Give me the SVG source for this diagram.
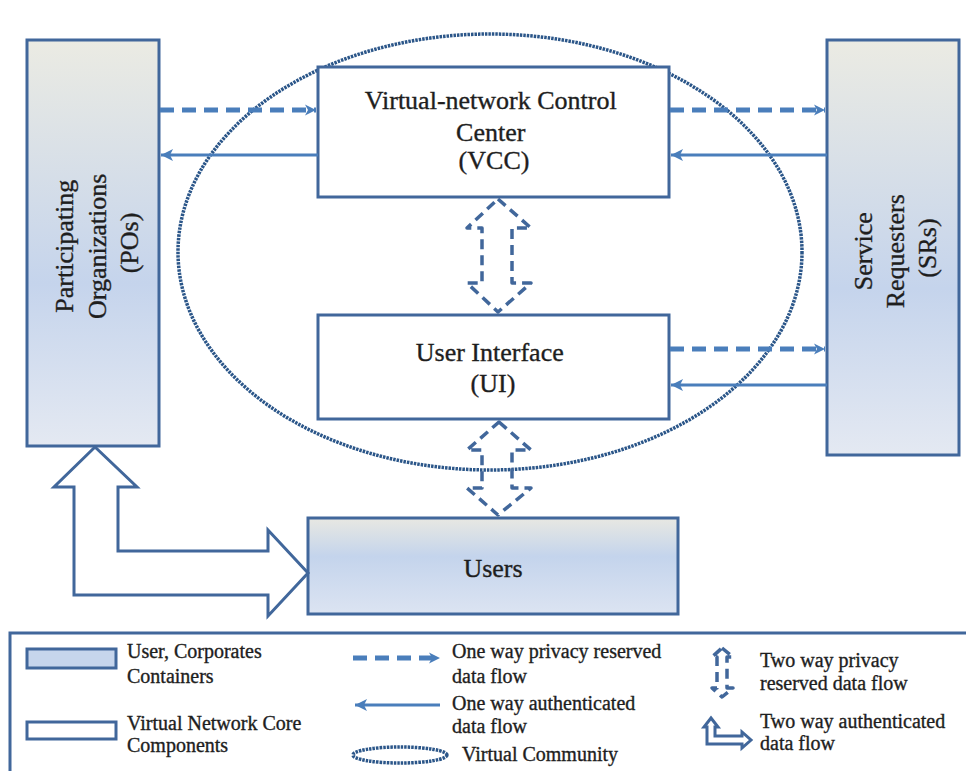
<svg xmlns="http://www.w3.org/2000/svg" width="966" height="771" viewBox="0 0 966 771">
  <defs>
    <linearGradient id="gradTall" x1="0" y1="0" x2="0" y2="1">
      <stop offset="0" stop-color="#ebebe3"/>
      <stop offset="0.6" stop-color="#c5d4ec"/>
      <stop offset="1" stop-color="#e4e9f2"/>
    </linearGradient>
    <linearGradient id="gradWide" x1="0" y1="0" x2="0" y2="1">
      <stop offset="0" stop-color="#e8e8e2"/>
      <stop offset="0.4" stop-color="#c4d4ec"/>
      <stop offset="1" stop-color="#dce4f2"/>
    </linearGradient>
    <marker id="headDash" markerWidth="13" markerHeight="13" refX="12" refY="6.5" orient="auto" markerUnits="userSpaceOnUse">
      <path d="M1,1 L12,6.5 L1,12 L4,6.5 Z" fill="#4a7ebb"/>
    </marker>
    <marker id="headSolid" markerWidth="14" markerHeight="14" refX="13" refY="7" orient="auto" markerUnits="userSpaceOnUse">
      <path d="M1,1 L13,7 L1,13 L4,7 Z" fill="#4a7ebb"/>
    </marker>
    <style>
      .container { stroke: #41679b; stroke-width: 3; }
      .core { fill: #ffffff; stroke: #41679b; stroke-width: 3; }
      text { font-family: 'Liberation Serif', 'DejaVu Serif', serif; fill: #1e1e1e; stroke: #1e1e1e; stroke-width: 0.35; }
      .label { font-size: 26px; text-anchor: middle; }
      .legend { font-size: 20px; }
      .dashed { stroke: #4a7ebb; stroke-width: 5; stroke-dasharray: 14 8; fill: none; }
      .solid { stroke: #4a7ebb; stroke-width: 3; fill: none; }
      .twoWayDashed { fill: none; stroke: #41679b; stroke-width: 3.5; stroke-dasharray: 10 6; stroke-linejoin: round; }
      .twoWaySolid { fill: #ffffff; stroke: #41679b; stroke-width: 3; stroke-linejoin: miter; }
      .community { fill: none; stroke: #2b5689; stroke-width: 3.5; stroke-dasharray: 2.5 1; }
    </style>
  </defs>

  <rect width="966" height="771" fill="#ffffff"/>

  <!-- Virtual community boundary -->
  <ellipse id="virtual-community" class="community" cx="490" cy="252" rx="312" ry="218"/>

  <!-- Participating Organizations -->
  <g id="pos">
    <rect class="container" x="27" y="40" width="132" height="406" fill="url(#gradTall)"/>
    <text class="label" font-family="Liberation Serif, DejaVu Serif, serif" transform="translate(97,243) rotate(-90)">
      <tspan x="0" y="-24">Participating</tspan>
      <tspan x="0" y="9">Organizations</tspan>
      <tspan x="0" y="41">(POs)</tspan>
    </text>
  </g>

  <!-- Service Requesters -->
  <g id="srs">
    <rect class="container" x="827" y="40" width="132" height="415" fill="url(#gradTall)"/>
    <text class="label" font-family="Liberation Serif, DejaVu Serif, serif" transform="translate(895,248) rotate(-90)">
      <tspan x="0" y="-23">Service</tspan>
      <tspan x="0" y="9">Requesters</tspan>
      <tspan x="0" y="41">(SRs)</tspan>
    </text>
  </g>

  <!-- Virtual-network Control Center -->
  <g id="vcc">
    <rect class="core" x="318" y="67" width="351" height="130"/>
    <text class="label" font-family="Liberation Serif, DejaVu Serif, serif">
      <tspan x="494" y="109">Virtual-network Control</tspan>
      <tspan x="494" y="141">Center</tspan>
      <tspan x="494" y="169">(VCC)</tspan>
    </text>
  </g>

  <!-- User Interface -->
  <g id="ui">
    <rect class="core" x="318" y="315" width="351" height="104"/>
    <text class="label" font-family="Liberation Serif, DejaVu Serif, serif">
      <tspan x="493" y="361">User Interface</tspan>
      <tspan x="493" y="392">(UI)</tspan>
    </text>
  </g>

  <!-- Users -->
  <g id="users">
    <rect class="container" x="308" y="518" width="370" height="96" fill="url(#gradWide)"/>
    <text class="label" font-family="Liberation Serif, DejaVu Serif, serif" x="493" y="577">Users</text>
  </g>

  <!-- Connectors -->
  <g id="connectors">
    <line class="dashed" x1="160" y1="110" x2="316" y2="110" marker-end="url(#headDash)"/>
    <line class="solid" x1="318" y1="155" x2="161" y2="155" marker-end="url(#headSolid)"/>
    <line class="dashed" x1="670" y1="110" x2="825" y2="110" marker-end="url(#headDash)"/>
    <line class="solid" x1="827" y1="155" x2="671" y2="155" marker-end="url(#headSolid)"/>
    <line class="dashed" x1="670" y1="349" x2="825" y2="349" marker-end="url(#headDash)"/>
    <line class="solid" x1="827" y1="385" x2="671" y2="385" marker-end="url(#headSolid)"/>

    <!-- VCC <-> UI -->
    <path class="twoWayDashed" d="M498,199 L531,228 L512,228 L512,283 L531,283 L498,312 L467,283 L482,283 L482,228 L467,228 Z"/>
    <!-- UI <-> Users -->
    <path class="twoWayDashed" d="M499,422 L531,450 L512,450 L512,488 L531,488 L498,515 L467,488 L482,488 L482,450 L467,450 Z"/>
    <!-- POs <-> Users -->
    <path class="twoWaySolid" d="M95,447 L137,487 L118,487 L118,551 L268,551 L268,530 L308,573 L268,616 L268,595 L74,595 L74,487 L54,487 Z"/>
  </g>

  <!-- Legend -->
  <g id="legend" font-family="Liberation Serif, DejaVu Serif, serif">
    <path d="M10,771 L10,633 L966,633" fill="none" stroke="#41679b" stroke-width="3"/>

    <rect x="27" y="649" width="89" height="19" fill="#c6d5ec" stroke="#41679b" stroke-width="3"/>
    <text class="legend"><tspan x="127" y="658">User, Corporates</tspan><tspan x="127" y="683">Containers</tspan></text>

    <rect x="27" y="722" width="89" height="17" fill="#ffffff" stroke="#41679b" stroke-width="3"/>
    <text class="legend"><tspan x="127" y="730">Virtual Network Core</tspan><tspan x="127" y="752">Components</tspan></text>

    <line class="dashed" x1="353" y1="658" x2="440" y2="658" marker-end="url(#headDash)"/>
    <text class="legend"><tspan x="452" y="658">One way privacy reserved</tspan><tspan x="452" y="683">data flow</tspan></text>

    <line class="solid" x1="440" y1="705" x2="355" y2="705" marker-end="url(#headSolid)"/>
    <text class="legend"><tspan x="452" y="710">One way authenticated</tspan><tspan x="452" y="733">data flow</tspan></text>

    <ellipse class="community" cx="400" cy="755" rx="47" ry="8" stroke-width="2.5"/>
    <text class="legend" x="462" y="761">Virtual Community</text>

    <path class="twoWayDashed" d="M722,648 L733,657 L727,657 L727,688 L733,688 L722,697 L712,688 L717,688 L717,657 L712,657 Z" stroke-width="3" stroke-dasharray="6 5"/>
    <text class="legend"><tspan x="760" y="667">Two way privacy</tspan><tspan x="760" y="690">reserved data flow</tspan></text>

    <path class="twoWaySolid" d="M711,718 L718,727 L715,727 L715,736 L742,736 L742,732 L751,740 L742,748 L742,744 L707,744 L707,727 L704,727 Z" stroke-width="2.5"/>
    <text class="legend"><tspan x="760" y="728">Two way authenticated</tspan><tspan x="760" y="750">data flow</tspan></text>
  </g>
</svg>
